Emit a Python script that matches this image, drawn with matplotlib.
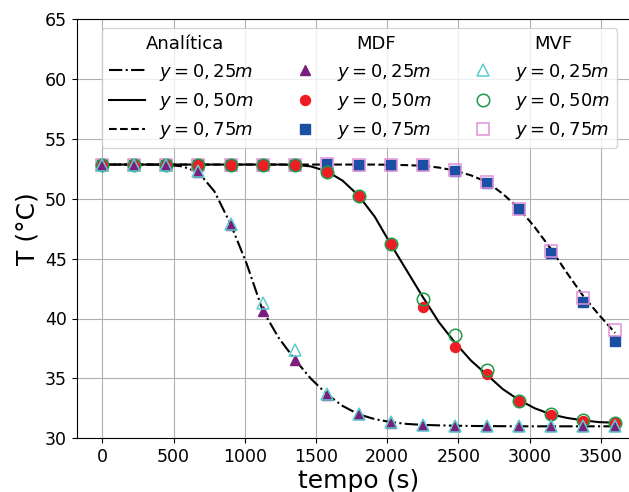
import matplotlib
matplotlib.use("Agg")
import matplotlib.pyplot as plt
from matplotlib.lines import Line2D
from matplotlib.transforms import Affine2D

# ---- data ----
t_num = [0, 225, 450, 675, 900, 1125, 1350, 1575, 1800, 2025, 2250, 2475,
         2700, 2925, 3150, 3375, 3600]

mdf_025 = [52.85, 52.85, 52.85, 52.2, 47.8, 40.6, 36.5, 33.6, 32.0, 31.3, 31.1,
           31.05, 31.0, 31.0, 31.0, 31.0, 31.0]
mvf_025 = [52.85, 52.85, 52.85, 52.3, 47.9, 41.3, 37.4, 33.7, 32.0, 31.35, 31.15,
           31.05, 31.0, 31.0, 31.0, 31.0, 31.0]
mdf_050 = [52.85, 52.85, 52.85, 52.85, 52.85, 52.85, 52.85, 52.2, 50.2, 46.2, 41.0,
           37.6, 35.35, 33.1, 31.95, 31.45, 31.3]
mvf_050 = [52.85, 52.85, 52.85, 52.85, 52.85, 52.85, 52.8, 52.2, 50.2, 46.2, 41.6,
           38.6, 35.7, 33.1, 32.0, 31.5, 31.3]
mdf_075 = [52.85, 52.85, 52.85, 52.85, 52.85, 52.85, 52.85, 52.9, 52.85, 52.85, 52.8,
           52.3, 51.3, 49.1, 45.5, 41.4, 38.1]
mvf_075 = [52.85, 52.85, 52.85, 52.85, 52.85, 52.85, 52.85, 52.9, 52.85, 52.85, 52.8,
           52.4, 51.4, 49.1, 45.6, 41.7, 39.0]

t_an = [0, 112.5, 225, 337.5, 450, 562.5, 675, 787.5, 900, 1012.5, 1125, 1237.5,
        1350, 1462.5, 1575, 1687.5, 1800, 1912.5, 2025, 2137.5, 2250, 2362.5,
        2475, 2587.5, 2700, 2812.5, 2925, 3037.5, 3150, 3262.5, 3375, 3487.5, 3600]
an_025 = [52.85, 52.85, 52.85, 52.85, 52.83, 52.7, 52.2, 50.6, 47.9, 44.6, 40.7,
          38.4, 36.6, 35.0, 33.7, 32.7, 32.0, 31.6, 31.35, 31.2, 31.12, 31.08,
          31.05, 31.03, 31.02, 31.01, 31.0, 31.0, 31.0, 31.0, 31.0, 31.0, 31.0]
an_050 = [52.85, 52.85, 52.85, 52.85, 52.85, 52.85, 52.85, 52.85, 52.85, 52.85, 52.85,
          52.85, 52.83, 52.7, 52.3, 51.5, 50.25, 48.5, 46.2, 44.0, 41.8, 39.7,
          38.0, 36.5, 35.3, 34.1, 33.2, 32.5, 32.0, 31.7, 31.5, 31.35, 31.3]
an_075 = [52.85, 52.85, 52.85, 52.85, 52.85, 52.85, 52.85, 52.85, 52.85, 52.85, 52.85,
          52.85, 52.85, 52.85, 52.85, 52.85, 52.85, 52.85, 52.83, 52.8, 52.75, 52.6,
          52.35, 51.95, 51.4, 50.4, 49.2, 47.6, 45.8, 43.8, 41.9, 40.3, 38.8]

labels = [r"$y=0,25m$", r"$y=0,50m$", r"$y=0,75m$"]
headers = ["Analítica", "MDF", "MVF"]
xticks = [0, 500, 1000, 1500, 2000, 2500, 3000, 3500]
yticks = [30, 35, 40, 45, 50, 55, 60, 65]

# ---- figure ----
fig = plt.figure(figsize=(6.29, 4.92), dpi=100)
ax = fig.add_axes([76.7 / 629, 53.7 / 492, 564 / 629, 419.3 / 492])

l1, = ax.plot(t_an, an_025, color="black", ls="-.", lw=1.5, zorder=2)
l2, = ax.plot(t_an, an_050, color="black", ls="-", lw=1.5, zorder=2)
l3, = ax.plot(t_an, an_075, color="black", ls="--", lw=1.5, zorder=2)

c_tri = "#7b1f7e"
c_red = "#ee1c25"
c_blue = "#1a4fa3"
c_cyan = "#5ccdcd"
c_green = "#1e9a46"
c_pink = "#e090d6"

s3, = ax.plot(t_num, mdf_075, ls="none", marker="s", ms=6.5, color=c_blue, zorder=3)
v3, = ax.plot(t_num, mvf_075, ls="none", marker="s", ms=9, mfc="none",
              mec=c_pink, mew=1.1, zorder=3)
s2, = ax.plot(t_num, mdf_050, ls="none", marker="o", ms=7.2, color=c_red, zorder=4)
v2, = ax.plot(t_num, mvf_050, ls="none", marker="o", ms=9, mfc="none",
              mec=c_green, mew=1.1, zorder=4)
s1, = ax.plot(t_num, mdf_025, ls="none", marker="^", ms=7, color=c_tri, zorder=5)
v1, = ax.plot(t_num, mvf_025, ls="none", marker="^", ms=9, mfc="none",
              mec=c_cyan, mew=1.1, zorder=5)

ax.set_xlim(-180, 3780)
ax.set_ylim(30, 65)
ax.set_xticks(xticks)
ax.set_yticks(yticks)
ax.tick_params(labelsize=12.5)
ax.grid(True, color="#b0b0b0", lw=0.8)
ax.set_axisbelow(True)
ax.set_xlabel("tempo (s)", fontsize=18, labelpad=2)
ax.set_ylabel("T (°C)", fontsize=18)

blank = [Line2D([], [], ls="none") for _ in range(3)]
handles = [blank[0], l1, l2, l3, blank[1], s1, s2, s3, blank[2], v1, v2, v3]
leg_labels = [headers[0]] + labels + [headers[1]] + labels + [headers[2]] + labels
leg = ax.legend(handles, leg_labels, ncol=3, loc="upper left",
                bbox_to_anchor=(0.0443, 0.9785), borderaxespad=0,
                fontsize=13, columnspacing=1.78, handlelength=2.0,
                labelspacing=0.46)

texts = leg.get_texts()
shifts = {0: -14, 4: 19, 8: 19}
for i, dx in shifts.items():
    tx = texts[i]
    tx.set_transform(tx.get_transform() + Affine2D().translate(dx, 0))

fig.savefig("out.png", dpi=100)
